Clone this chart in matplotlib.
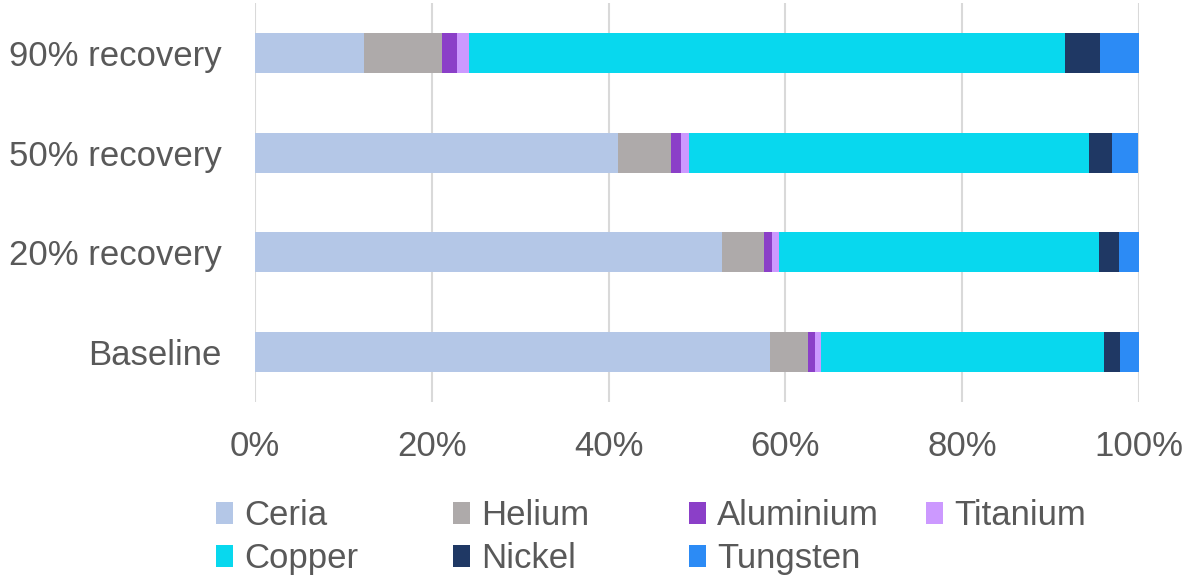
import matplotlib
matplotlib.use("Agg")
import matplotlib.pyplot as plt
from matplotlib.patches import Patch
import numpy as np

categories = ["Baseline", "20% recovery", "50% recovery", "90% recovery"]
materials = ["Ceria", "Helium", "Aluminium", "Titanium", "Copper", "Nickel", "Tungsten"]
ceria = [58.3, 52.8, 41.1, 12.3]
helium = [4.3, 4.8, 6.0, 8.9]
aluminium = [0.7, 0.9, 1.1, 1.6]
titanium = [0.7, 0.8, 0.9, 1.4]
copper = [32.0, 36.2, 45.2, 67.4]
nickel = [1.9, 2.2, 2.6, 4.0]
tungsten = [2.1, 2.3, 3.0, 4.4]
colors = ["#B4C7E7", "#AEAAAA", "#8B3FC8", "#CC99FF", "#08D8EE", "#1F3864", "#2C8BF5"]
xticks = [0, 20, 40, 60, 80, 100]
xticklabels = ["0%", "20%", "40%", "60%", "80%", "100%"]

series = [ceria, helium, aluminium, titanium, copper, nickel, tungsten]

plt.rcParams['font.family'] = ['Liberation Sans', 'DejaVu Sans']
text_color = "#595959"

fig = plt.figure(figsize=(11.86, 5.82), dpi=100)
ax = fig.add_axes([255/1186, 1-402/582, (1139-255)/1186, 399/582])

y = np.arange(len(categories))
left = np.zeros(len(categories))
for vals, col, name in zip(series, colors, materials):
    vals = np.array(vals, dtype=float)
    ax.barh(y, vals, left=left, height=0.4, color=col, edgecolor='none', label=name, zorder=3)
    left += vals

ax.set_xlim(0, 100)
ax.set_ylim(-0.5, 3.5)
ax.set_xticks(xticks)
ax.set_xticklabels(xticklabels)
ax.set_yticks(y)
ax.set_yticklabels(categories)
ax.tick_params(axis='both', length=0, labelsize=25, colors=text_color)
ax.tick_params(axis='y', pad=24)
ax.tick_params(axis='x', pad=20)
ax.xaxis.grid(True, color="#D9D9D9", linewidth=1.5, zorder=0)
for s in ax.spines.values():
    s.set_visible(False)

# legend: four columns at fixed positions
col_x = [216/1186, 453/1186, 689/1186, 926/1186]
columns = [[0, 4], [1, 5], [2, 6], [3]]
for cx, idxs in zip(col_x, columns):
    handles = [Patch(facecolor=colors[i], edgecolor='none') for i in idxs]
    labels = [materials[i] for i in idxs]
    fig.legend(handles, labels, loc='upper left', bbox_to_anchor=(cx, 1-499/582),
               frameon=False, fontsize=25, labelcolor=text_color,
               handlelength=0.5, handleheight=0.6, handletextpad=0.3,
               labelspacing=0.3, borderaxespad=0, borderpad=0)

fig.savefig("out.png", dpi=100)
